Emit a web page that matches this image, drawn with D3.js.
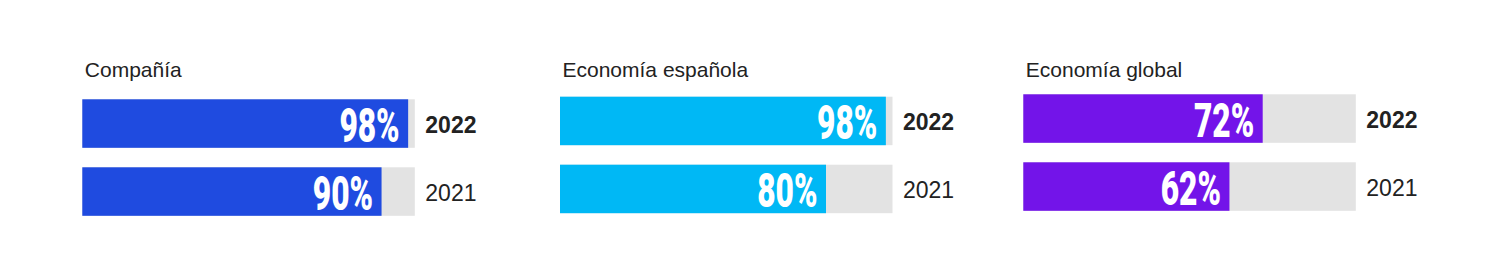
<!DOCTYPE html>
<html>
<head>
<meta charset="utf-8">
<script src="https://cdn.jsdelivr.net/npm/d3@7"></script>
<style>
  html, body { margin: 0; padding: 0; background: #fff; }
  svg { display: block; }
</style>
</head>
<body>
<svg id="chart" width="1500" height="266"></svg>
<script>
// ---- data ----
const panelTitles = ["Compañía", "Economía española", "Economía global"];
const years = ["2022", "2021"];
const values2022 = [98, 98, 72];
const values2021 = [90, 80, 62];
const panelColors = ["#1f4be0", "#00b8f5", "#7314e9"];

// ---- layout ----
const W = 1500, H = 266;
const panelLeft = [82.3, 560, 1023.3];
const panelTop = [99.3, 96.7, 94.3];
const barTrackW = 332.5;
const groupH = 116.5;
const titleBaseline = 76.7;

const svg = d3.select("#chart");

panelTitles.forEach((title, i) => {
  const vals = [values2022[i], values2021[i]];
  const x = d3.scaleLinear().domain([0, 100]).range([panelLeft[i], panelLeft[i] + barTrackW]);
  const y = d3.scaleBand().domain(years)
    .range([panelTop[i], panelTop[i] + groupH])
    .paddingInner(19.5 / 68);

  const g = svg.append("g");

  g.append("text")
    .attr("x", panelLeft[i] + 2.5)
    .attr("y", titleBaseline)
    .attr("font-family", "Liberation Sans, Arial, sans-serif")
    .attr("font-size", 21)
    .attr("fill", "#222")
    .text(title);

  const rows = g.selectAll("g.row").data(years.map((yr, k) => ({ yr, v: vals[k], k })))
    .join("g").attr("class", "row");

  rows.append("rect")
    .attr("x", x(0))
    .attr("y", d => y(d.yr))
    .attr("width", x(100) - x(0))
    .attr("height", y.bandwidth())
    .attr("fill", "#e3e3e3");

  rows.append("rect")
    .attr("x", x(0))
    .attr("y", d => y(d.yr))
    .attr("width", d => x(d.v) - x(0))
    .attr("height", y.bandwidth())
    .attr("fill", panelColors[i]);

  rows.append("text")
    .attr("transform", d => `translate(${x(d.v) - 8.5},${y(d.yr) + y.bandwidth() / 2 + 18.5}) scale(0.66,1)`)
    .attr("text-anchor", "end")
    .attr("font-family", "Roboto, sans-serif")
    .attr("font-weight", 900)
    .attr("font-size", 48)
    .attr("fill", "#fff")
    .text(d => d.v + "%");

  rows.append("text")
    .attr("x", x(100) + 10.5)
    .attr("y", d => y(d.yr) + y.bandwidth() / 2 + 9)
    .attr("font-family", "Liberation Sans, Arial, sans-serif")
    .attr("font-size", 23)
    .attr("font-weight", d => d.k === 0 ? 700 : 400)
    .attr("fill", "#222")
    .text(d => d.yr);
});
</script>
</body>
</html>
